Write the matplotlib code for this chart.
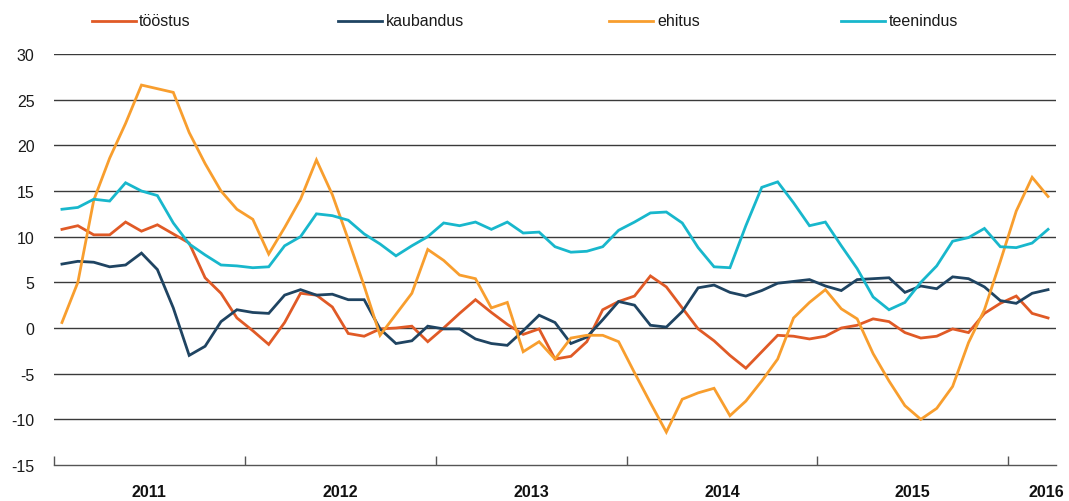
import matplotlib
matplotlib.use("Agg")
import matplotlib.pyplot as plt
from matplotlib.lines import Line2D
import numpy as np

plt.rcParams['font.family'] = ['Liberation Sans', 'DejaVu Sans']

# Monthly data Jan 2011 .. Mar 2016
years = ["2011", "2012", "2013", "2014", "2015", "2016"]
series_names = ["tööstus", "kaubandus", "ehitus", "teenindus"]

toostus = [10.8, 11.2, 10.2, 10.2, 11.6, 10.6, 11.3, 10.3, 9.3, 5.5,
           3.8, 1.1, -0.3, -1.8, 0.6, 3.8, 3.6, 2.3, -0.6, -0.9,
           -0.1, 0.0, 0.2, -1.5, 0.0, 1.6, 3.1, 1.7, 0.4, -0.7,
           -0.1, -3.4, -3.1, -1.5, 2.0, 2.9, 3.5, 5.7, 4.5, 2.2,
           -0.1, -1.4, -3.0, -4.4, -2.6, -0.8, -0.9, -1.2, -0.9, 0.0,
           0.3, 1.0, 0.7, -0.5, -1.1, -0.9, -0.1, -0.5, 1.6, 2.7,
           3.5, 1.6, 1.1]

kaubandus = [7.0, 7.3, 7.2, 6.7, 6.9, 8.2, 6.4, 2.2, -3.0, -2.0,
             0.7, 2.0, 1.7, 1.6, 3.6, 4.2, 3.6, 3.7, 3.1, 3.1,
             -0.1, -1.7, -1.4, 0.2, -0.1, -0.1, -1.2, -1.7, -1.9, -0.3,
             1.4, 0.6, -1.7, -1.0, 0.9, 2.9, 2.5, 0.3, 0.1, 1.8,
             4.4, 4.7, 3.9, 3.5, 4.1, 4.9, 5.1, 5.3, 4.6, 4.1,
             5.3, 5.4, 5.5, 3.9, 4.6, 4.3, 5.6, 5.4, 4.5, 3.0,
             2.7, 3.8, 4.2]

ehitus = [0.6, 5.0, 14.0, 18.6, 22.4, 26.6, 26.2, 25.8, 21.4, 18.0,
          15.0, 13.0, 11.9, 8.1, 11.0, 14.1, 18.4, 14.6, 9.7, 4.6,
          -0.8, 1.5, 3.8, 8.6, 7.4, 5.8, 5.4, 2.2, 2.8, -2.6,
          -1.5, -3.4, -1.1, -0.8, -0.8, -1.5, -4.9, -8.2, -11.4, -7.8,
          -7.1, -6.6, -9.6, -8.0, -5.8, -3.4, 1.1, 2.8, 4.2, 2.1,
          1.0, -2.8, -5.8, -8.5, -10.0, -8.8, -6.4, -1.6, 2.0, 7.3,
          12.8, 16.5, 14.4]

teenindus = [13.0, 13.2, 14.1, 13.9, 15.9, 15.0, 14.5, 11.5, 9.2, 8.0,
             6.9, 6.8, 6.6, 6.7, 9.0, 10.0, 12.5, 12.3, 11.8, 10.3,
             9.2, 7.9, 9.0, 10.0, 11.5, 11.2, 11.6, 10.8, 11.6, 10.4,
             10.5, 8.9, 8.3, 8.4, 8.9, 10.7, 11.6, 12.6, 12.7, 11.5,
             8.8, 6.7, 6.6, 11.2, 15.4, 16.0, 13.7, 11.2, 11.6, 9.0,
             6.5, 3.4, 2.0, 2.8, 5.0, 6.8, 9.5, 9.9, 10.9, 8.9,
             8.8, 9.3, 10.8]

yticks = [-15, -10, -5, 0, 5, 10, 15, 20, 25, 30]

colors = ["#E05A26", "#1F4462", "#F89E2E", "#18B7CC"]
data = [toostus, kaubandus, ehitus, teenindus]

FS = 11.5
W, H = 1069, 502
fig = plt.figure(figsize=(W / 100, H / 100), dpi=100)
ax = fig.add_axes([54 / W, 36 / H, (1056 - 54) / W, 411 / H])

n = len(toostus)
x = np.arange(n) + 0.5
for vals, c in zip(data, colors):
    ax.plot(x, vals, color=c, lw=2.0, solid_joinstyle='miter', zorder=3)

ax.set_xlim(0, n)
ax.set_ylim(-15, 30)

# gridlines
for v in yticks[1:]:
    ax.axhline(v, color="#3a3a3a", lw=1.0, zorder=1)

ax.set_yticks(yticks)
ax.set_yticklabels([str(v) for v in yticks], fontsize=FS, color="#1a1a1a")
ax.tick_params(axis='y', length=0, pad=14)

for s in ["top", "right", "left"]:
    ax.spines[s].set_visible(False)
ax.spines["bottom"].set_color("#555555")
ax.spines["bottom"].set_linewidth(1.0)

major = [12 * k for k in range(len(years))]
ax.set_xticks(major)
ax.set_xticklabels([""] * len(major))
ax.tick_params(axis='x', which='major', direction='in', length=6.5,
               color="#555555", width=1.0)
centers = [12 * k + 6 for k in range(len(years) - 1)] + [62.4]
ax.set_xticks(centers, minor=True)
ax.set_xticklabels(years, minor=True, fontsize=FS, fontweight='bold',
                   color="#111111")
ax.tick_params(axis='x', which='minor', length=0, pad=14)

# legend drawn in figure pixel positions
leg = [(92, 136, 139), (338, 382, 386), (609, 653, 657), (841, 885, 889)]
ly = 1 - 22 / H
for (x0, x1, tx), name, c in zip(leg, series_names, colors):
    fig.add_artist(Line2D([x0 / W, x1 / W], [ly, ly], color=c, lw=2.0,
                          transform=fig.transFigure))
    fig.text(tx / W, ly, name, fontsize=FS, va='center', ha='left',
             color="#1a1a1a")

fig.savefig("out.png", dpi=100)
